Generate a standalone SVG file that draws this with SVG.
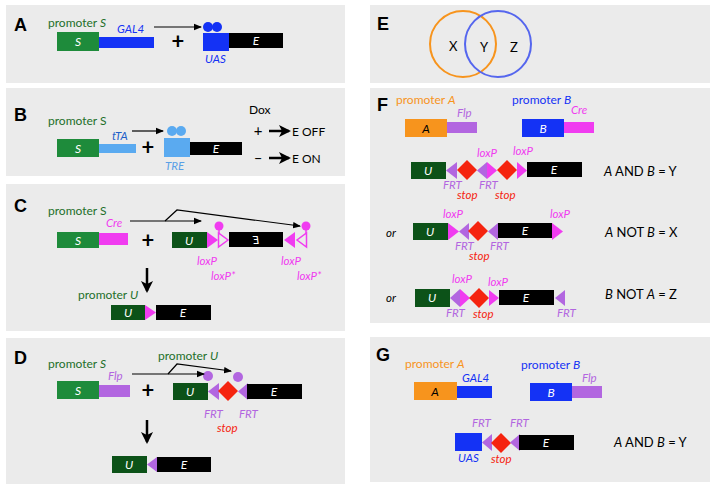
<svg xmlns="http://www.w3.org/2000/svg" width="716" height="489" viewBox="0 0 716 489">
<defs>
<style>
text{font-family:Lato,"Open Sans","Liberation Sans",sans-serif;}
.bg{fill:#ebebeb;}
.pl{font-family:"Liberation Sans",Arial,sans-serif;font-weight:bold;font-size:18px;fill:#000;}
.prS{font-size:12px;fill:#236f2a;}
.prA{font-size:12px;fill:#f7941d;}
.prB{font-size:12px;fill:#1432f5;}
.lab{font-size:11.5px;font-style:italic;}
.in{font-size:12px;font-style:italic;fill:#fff;text-anchor:middle;}
.res{font-size:13px;fill:#000;}
.gS{fill:#1e8b3b;}
.gU{fill:#0c5218;}
.blue{fill:#1432f5;}
.lblue{fill:#5aaaf0;}
.mag{fill:#f03cf0;}
.pur{fill:#b266e0;}
.red{fill:#f5240f;}
.org{fill:#f7941d;}
.blk{fill:#000;}
.ln{stroke:#000;stroke-width:1.2;fill:none;}
.thick{stroke:#000;stroke-width:2.5;fill:none;}
</style>
<marker id="ah" markerWidth="8" markerHeight="8" refX="7" refY="4" orient="auto" markerUnits="userSpaceOnUse">
<path d="M0,0.8 L8,4 L0,7.2 Z" fill="#000"/>
</marker>
<marker id="ahT" markerWidth="12" markerHeight="12" refX="10" refY="6" orient="auto" markerUnits="userSpaceOnUse">
<path d="M0,0 L12,6 L0,12 L3,6 Z" fill="#000"/>
</marker>
</defs>
<rect width="716" height="489" fill="#fff"/>

<!-- Panel backgrounds -->
<rect class="bg" x="6" y="5" width="339" height="78"/>
<rect class="bg" x="6" y="88" width="339" height="88"/>
<rect class="bg" x="6" y="184" width="339" height="147"/>
<rect class="bg" x="6" y="338" width="339" height="146"/>
<rect class="bg" x="370" y="5" width="340" height="78"/>
<rect class="bg" x="370" y="88" width="340" height="235"/>
<rect class="bg" x="370" y="337" width="340" height="145"/>

<!-- Panel A -->
<g id="panelA">
<text class="pl" x="14" y="31">A</text>
<text class="prS" x="48" y="27">promoter <tspan font-style="italic">S</tspan></text>
<g id="A-S"><rect class="gS" x="57" y="32" width="42" height="19"/><text class="in" x="78" y="46" font-style="normal">S</text></g>
<g id="A-GAL4"><rect class="blue" x="99" y="37" width="55" height="11"/><text class="lab" x="117" y="33" fill="#1432f5">GAL4</text></g>
<text x="178" y="49" font-size="22" font-weight="bold" text-anchor="middle" font-family="Liberation Sans,sans-serif">+</text>
<g id="A-UAS"><circle class="blue" cx="208" cy="27" r="5"/><circle class="blue" cx="217" cy="27" r="5"/><rect class="blue" x="203" y="33" width="26" height="18"/><text class="lab" x="205" y="63" fill="#1432f5">UAS</text></g>
<g id="A-E"><rect class="blk" x="229" y="33" width="54" height="15"/><text class="in" x="256" y="45" font-style="normal">E</text></g>
</g>

<!-- Panel B -->
<g id="panelB">
<text class="pl" x="14" y="121">B</text>
<text class="prS" x="48" y="125">promoter S</text>
<g id="B-S"><rect class="gS" x="57" y="139" width="42" height="18"/><text class="in" x="78" y="153" font-style="normal">S</text></g>
<g id="B-tTA"><rect class="lblue" x="99" y="144" width="37" height="9"/><text class="lab" x="112" y="140" fill="#1f5fc8">tTA</text></g>
<text x="148" y="155" font-size="22" font-weight="bold" text-anchor="middle" font-family="Liberation Sans,sans-serif">+</text>
<g id="B-TRE"><circle class="lblue" cx="172" cy="131" r="5"/><circle class="lblue" cx="181" cy="131" r="5"/><rect class="lblue" x="164" y="138" width="26" height="19"/><text class="lab" x="165" y="170" fill="#5aa0e6">TRE</text></g>
<g id="B-E"><rect class="blk" x="190" y="142" width="52" height="13"/><text class="in" x="216" y="153">E</text></g>
<g id="B-dox">
<text x="249" y="114" font-size="12" fill="#000">Dox</text>
<text x="258" y="136" font-size="15" fill="#000" text-anchor="middle">+</text>
<text x="292" y="136" font-size="12" fill="#000">E OFF</text>
<text x="258" y="163" font-size="15" fill="#000" text-anchor="middle">–</text>
<text x="292" y="163" font-size="12" fill="#000">E ON</text>
</g>
</g>

<!-- Panel C -->
<g id="panelC">
<text class="pl" x="14" y="212">C</text>
<text class="prS" x="48" y="215">promoter S</text>
<g id="C-S"><rect class="gS" x="57" y="232" width="42" height="16"/><text class="in" x="78" y="245">S</text></g>
<g id="C-Cre"><rect class="mag" x="99" y="233" width="29" height="12"/><text class="lab" x="106" y="227" fill="#f03cf0">Cre</text></g>
<text x="148" y="248" font-size="22" font-weight="bold" text-anchor="middle" font-family="Liberation Sans,sans-serif">+</text>
<g id="C-U"><rect class="gU" x="172" y="232" width="35" height="16"/><text class="in" x="189" y="245">U</text></g>
<g id="C-lox1">
<polygon class="mag" points="207,232 207,248 218,240"/>
<polygon points="218.5,233 218.5,247 228,240" fill="none" stroke="#f03cf0" stroke-width="1.5"/>
<line x1="219" y1="227" x2="219" y2="234" stroke="#f03cf0" stroke-width="1.5"/>
<circle class="mag" cx="219" cy="226" r="4.5"/>
<text class="lab" x="197" y="265" fill="#f03cf0">loxP</text>
<text class="lab" x="211" y="280" fill="#f03cf0">loxP*</text>
</g>
<g id="C-E"><rect class="blk" x="229" y="232" width="54" height="15"/><text class="in" transform="translate(256,244) scale(-1,1)" x="0" y="0" font-style="normal">E</text></g>
<g id="C-lox2">
<polygon class="mag" points="295,232 295,248 284,240"/>
<polygon points="306.5,233 306.5,247 297,240" fill="none" stroke="#f03cf0" stroke-width="1.5"/>
<line x1="306" y1="227" x2="306" y2="234" stroke="#f03cf0" stroke-width="1.5"/>
<circle class="mag" cx="306" cy="226" r="4.5"/>
<text class="lab" x="281" y="265" fill="#f03cf0">loxP</text>
<text class="lab" x="297" y="280" fill="#f03cf0">loxP*</text>
</g>
<text class="prS" x="78" y="299">promoter <tspan font-style="italic">U</tspan></text>
<g id="C-res"><rect class="gU" x="111" y="305" width="34" height="15"/><text class="in" x="128" y="317">U</text><polygon class="mag" points="145,305 145,320 156,312.5"/><rect class="blk" x="156" y="305" width="55" height="15"/><text class="in" x="183" y="317" font-style="normal">E</text></g>
</g>

<!-- Panel D -->
<g id="panelD">
<text class="pl" x="14" y="364">D</text>
<text class="prS" x="48" y="368">promoter <tspan font-style="italic">S</tspan></text>
<text class="prS" x="158" y="360">promoter <tspan font-style="italic">U</tspan></text>
<g id="D-S"><rect class="gS" x="57" y="381" width="42" height="18"/><text class="in" x="78" y="395">S</text></g>
<g id="D-Flp"><rect class="pur" x="99" y="385" width="31" height="12"/><text class="lab" x="108" y="380" fill="#b266e0">Flp</text></g>
<text x="148" y="398" font-size="22" font-weight="bold" text-anchor="middle" font-family="Liberation Sans,sans-serif">+</text>
<g id="D-U"><rect class="gU" x="173" y="383" width="35" height="17"/><text class="in" x="190" y="396">U</text></g>
<g id="D-cass">
<circle class="pur" cx="208" cy="376" r="5"/>
<circle class="pur" cx="238" cy="377" r="5"/>
<polygon class="pur" points="219,383 219,400 208,391.5"/>
<polygon class="red" points="228,381 238,391 228,401 218,391"/>
<polygon class="pur" points="248,383 248,400 238,391.5"/>
<text class="lab" x="204" y="418" fill="#b266e0">FRT</text>
<text class="lab" x="239" y="418" fill="#b266e0">FRT</text>
<text class="lab" x="217" y="432" fill="#f5240f">stop</text>
</g>
<g id="D-E"><rect class="blk" x="247" y="384" width="55" height="15"/><text class="in" x="274" y="396">E</text></g>
<g id="D-res"><rect class="gU" x="112" y="456" width="35" height="17"/><text class="in" x="129" y="469">U</text><polygon class="pur" points="157,457 157,472 147,464.5"/><rect class="blk" x="157" y="457" width="54" height="15"/><text class="in" x="184" y="469">E</text></g>
</g>

<!-- Panel E -->
<g id="panelE">
<text class="pl" x="377" y="30">E</text>
<circle cx="463" cy="44" r="33" fill="none" stroke="#f7941d" stroke-width="2"/>
<circle cx="498" cy="44" r="33" fill="none" stroke="#5566ee" stroke-width="2"/>
<text x="449" y="51" font-size="13" fill="#000" font-family="Liberation Sans,sans-serif">X</text>
<text x="480" y="52" font-size="13" fill="#000" font-family="Liberation Sans,sans-serif">Y</text>
<text x="510" y="52" font-size="13" fill="#000" font-family="Liberation Sans,sans-serif">Z</text>
</g>

<!-- Panel F -->
<g id="panelF">
<text class="pl" x="377" y="111">F</text>
<text class="prA" x="396" y="104">promoter <tspan font-style="italic">A</tspan></text>
<text class="prB" x="512" y="104">promoter <tspan font-style="italic">B</tspan></text>
<g id="F-A"><rect class="org" x="405" y="119" width="42" height="18"/><text class="in" x="426" y="133" fill="#000" style="fill:#000">A</text></g>
<g id="F-Flp"><rect class="pur" x="447" y="122" width="30" height="11"/><text class="lab" x="457" y="117" fill="#b266e0">Flp</text></g>
<g id="F-B"><rect class="blue" x="522" y="119" width="42" height="18"/><text class="in" x="543" y="133">B</text></g>
<g id="F-Cre"><rect class="mag" x="564" y="122" width="30" height="11"/><text class="lab" x="571" y="114" fill="#f03cf0">Cre</text></g>

<g id="F-row1">
<rect class="gU" x="411" y="162" width="35" height="17"/><text class="in" x="428" y="175">U</text>
<polygon class="pur" points="457,162 457,179 446,170.5"/>
<polygon class="red" points="467,160 477,170 467,180 457,170"/>
<polygon class="pur" points="487,162 487,179 477,170.5"/>
<polygon class="mag" points="487,162 487,179 497,170.5"/>
<polygon class="red" points="507,160 517,170 507,180 497,170"/>
<polygon class="mag" points="517,162 517,179 527,170.5"/>
<rect class="blk" x="527" y="162" width="55" height="15"/><text class="in" x="554" y="174">E</text>
<text class="lab" x="477" y="157" fill="#f03cf0">loxP</text>
<text class="lab" x="513" y="155" fill="#f03cf0">loxP</text>
<text class="lab" x="443" y="189" fill="#b266e0">FRT</text>
<text class="lab" x="479" y="189" fill="#b266e0">FRT</text>
<text class="lab" x="457" y="199" fill="#f5240f">stop</text>
<text class="lab" x="495" y="199" fill="#f5240f">stop</text>
<text class="res" x="604" y="176"><tspan font-style="italic">A</tspan> AND <tspan font-style="italic">B</tspan> = Y</text>
</g>

<g id="F-row2">
<text class="lab" x="386" y="237" fill="#000">or</text>
<rect class="gU" x="413" y="223" width="35" height="17"/><text class="in" x="430" y="236">U</text>
<polygon class="mag" points="448,223 448,240 459,231.5"/>
<polygon class="pur" points="469,223 469,240 459,231.5"/>
<polygon class="red" points="478,221 488,231 478,241 468,231"/>
<polygon class="pur" points="498,223 498,240 488,231.5"/>
<rect class="blk" x="498" y="223" width="54" height="15"/><text class="in" x="525" y="235">E</text>
<polygon class="mag" points="552,223 552,240 563,231.5"/>
<text class="lab" x="443" y="218" fill="#f03cf0">loxP</text>
<text class="lab" x="550" y="218" fill="#f03cf0">loxP</text>
<text class="lab" x="455" y="250" fill="#b266e0">FRT</text>
<text class="lab" x="490" y="250" fill="#b266e0">FRT</text>
<text class="lab" x="469" y="260" fill="#f5240f">stop</text>
<text class="res" x="605" y="237"><tspan font-style="italic">A</tspan> NOT <tspan font-style="italic">B</tspan> = X</text>
</g>

<g id="F-row3">
<text class="lab" x="386" y="302" fill="#000">or</text>
<rect class="gU" x="415" y="289" width="35" height="18"/><text class="in" x="432" y="302">U</text>
<polygon class="pur" points="460,289 460,307 450,298"/>
<polygon class="mag" points="460,289 460,307 470,298"/>
<polygon class="red" points="479,288 489,298 479,308 469,298"/>
<polygon class="mag" points="489,290 489,306 499,298"/>
<rect class="blk" x="499" y="290" width="55" height="15"/><text class="in" x="526" y="302">E</text>
<polygon class="pur" points="565,290 565,306 555,298"/>
<text class="lab" x="452" y="283" fill="#f03cf0">loxP</text>
<text class="lab" x="488" y="286" fill="#f03cf0">loxP</text>
<text class="lab" x="446" y="317" fill="#b266e0">FRT</text>
<text class="lab" x="473" y="318" fill="#f5240f">stop</text>
<text class="lab" x="557" y="317" fill="#b266e0">FRT</text>
<text class="res" x="605" y="299"><tspan font-style="italic">B</tspan> NOT <tspan font-style="italic">A</tspan> = Z</text>
</g>
</g>

<!-- Panel G -->
<g id="panelG">
<text class="pl" x="376" y="361">G</text>
<text class="prA" x="405" y="368">promoter <tspan font-style="italic">A</tspan></text>
<text class="prB" x="521" y="369">promoter <tspan font-style="italic">B</tspan></text>
<g id="G-A"><rect class="org" x="414" y="382" width="43" height="18"/><text class="in" x="435" y="396" style="fill:#000">A</text></g>
<g id="G-GAL4"><rect class="blue" x="457" y="386" width="35" height="12"/><text class="lab" x="462" y="382" fill="#1432f5">GAL4</text></g>
<g id="G-B"><rect class="blue" x="530" y="383" width="42" height="18"/><text class="in" x="551" y="397">B</text></g>
<g id="G-Flp"><rect class="pur" x="572" y="386" width="30" height="12"/><text class="lab" x="582" y="382" fill="#b266e0">Flp</text></g>
<g id="G-rep">
<rect class="blue" x="455" y="433" width="27" height="18"/>
<polygon class="pur" points="492,434 492,451 482,442.5"/>
<polygon class="red" points="501,433 511,443 501,453 491,443"/>
<polygon class="pur" points="520,434 520,451 510,442.5"/>
<rect class="blk" x="519" y="435" width="55" height="15"/><text class="in" x="546" y="447">E</text>
<text class="lab" x="472" y="427" fill="#b266e0">FRT</text>
<text class="lab" x="510" y="427" fill="#b266e0">FRT</text>
<text class="lab" x="458" y="462" fill="#1432f5">UAS</text>
<text class="lab" x="491" y="463" fill="#f5240f">stop</text>
<text class="res" x="614" y="447"><tspan font-style="italic">A</tspan> AND <tspan font-style="italic">B</tspan> = Y</text>
</g>
</g>

<!-- Connectors -->
<g id="connectors">
<line class="ln" x1="154" y1="27" x2="201" y2="27" marker-end="url(#ah)"/>
<line class="ln" x1="132" y1="131" x2="163" y2="131" marker-end="url(#ah)"/>
<line class="thick" x1="269" y1="131" x2="289" y2="131" marker-end="url(#ahT)"/>
<line class="thick" x1="269" y1="158" x2="289" y2="158" marker-end="url(#ahT)"/>
<line class="ln" x1="130" y1="221" x2="201" y2="221" marker-end="url(#ah)"/>
<polyline class="ln" points="165,221 177,210 300,226" marker-end="url(#ah)"/>
<line class="thick" x1="147" y1="268" x2="147" y2="291" marker-end="url(#ahT)"/>
<line class="ln" x1="132" y1="374" x2="204" y2="374" marker-end="url(#ah)"/>
<polyline class="ln" points="168,374 177,364 231,371" marker-end="url(#ah)"/>
<line class="thick" x1="147" y1="420" x2="147" y2="442" marker-end="url(#ahT)"/>
</g>
</svg>
